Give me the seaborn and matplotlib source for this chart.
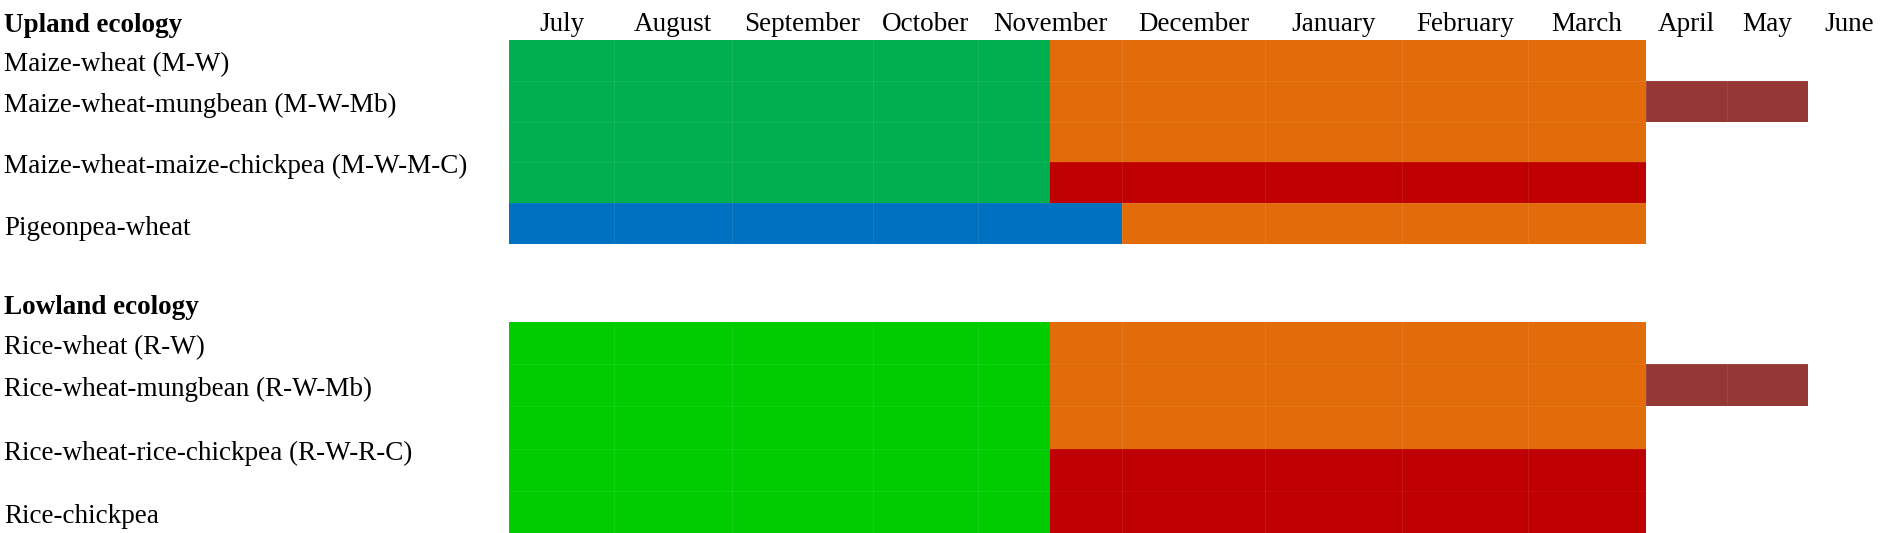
import numpy as np
import pandas as pd
import matplotlib
matplotlib.use("Agg")
import matplotlib.pyplot as plt
import matplotlib.transforms as mtransforms
import seaborn as sns

# ---------------- data ----------------
months = ["July", "August", "September", "October", "November", "December",
          "January", "February", "March", "April", "May", "June"]

# Upland ecology: one lane per table row; crops in sequence, and the month
# (counted from 1 July) at which each crop's period ends.
upland_titles = ["Maize-wheat (M-W)", "Maize-wheat-mungbean (M-W-Mb)",
                 "Maize-wheat-maize-chickpea (M-W-M-C)", "Pigeonpea-wheat"]
upland_crops = [["Maize", "Wheat"],
                ["Maize", "Wheat", "Mungbean"],
                ["Maize", "Wheat"],
                ["Maize", "Chickpea"],
                ["Pigeonpea", "Wheat"]]
upland_end_month = [[4.5, 9],
                    [4.5, 9, 11],
                    [4.5, 9],
                    [4.5, 9],
                    [5, 9]]

# Lowland ecology
lowland_titles = ["Rice-wheat (R-W)", "Rice-wheat-mungbean (R-W-Mb)",
                  "Rice-wheat-rice-chickpea (R-W-R-C)", "Rice-chickpea"]
lowland_crops = [["Rice", "Wheat"],
                 ["Rice", "Wheat", "Mungbean"],
                 ["Rice", "Wheat"],
                 ["Rice", "Chickpea"],
                 ["Rice", "Chickpea"]]
lowland_end_month = [[4.5, 9],
                     [4.5, 9, 11],
                     [4.5, 9],
                     [4.5, 9],
                     [4.5, 9]]

# ---------------- style / layout ----------------
crop_colors = {"Maize": "#00B050", "Rice": "#00CC00", "Wheat": "#E26B0A",
               "Chickpea": "#C00000", "Mungbean": "#953735", "Pigeonpea": "#0070C0"}
title_lanes = [0, 1, 2.5, 4]          # vertical placement of row titles
month_col_px = [105, 118, 141, 105, 144, 143, 137, 126, 118, 81, 81, 82]

sns.set_theme(style="white")
plt.rcParams["font.family"] = ["Liberation Serif", "DejaVu Serif"]
plt.rcParams["text.color"] = "black"
FS = 19.5

W, H = 1892, 533
fig = plt.figure(figsize=(W / 100, H / 100), dpi=100)
fig.patch.set_facecolor("white")

edges_px = np.concatenate([[0], np.cumsum(month_col_px)]).astype(float)
edges_m = np.arange(len(months) + 1, dtype=float)


def fwd(x):
    return np.interp(x, edges_m, edges_px)


def inv(p):
    return np.interp(p, edges_px, edges_m)


total_px = edges_px[-1]
ax_up = fig.add_axes([509 / W, 1 - 244 / H, total_px / W, 204 / H])
ax_lo = fig.add_axes([509 / W, 0, total_px / W, (533 - 322) / H])


def draw_block(ax, crops, ends):
    lanes = [f"lane{i}" for i in range(len(crops))]
    rows = []
    for i, (cs, es) in enumerate(zip(crops, ends)):
        n = len(cs)
        for k, (c, e) in enumerate(zip(cs, es)):
            rows.append({"lane": lanes[i], "crop": c, "end": e, "layer": n - 1 - k})
    df = pd.DataFrame(rows)
    for layer in sorted(df["layer"].unique()):
        sub = df[df["layer"] == layer]
        sns.barplot(data=sub, x="end", y="lane", hue="crop", palette=crop_colors,
                    order=lanes, orient="h", dodge=False, width=1.0, saturation=1,
                    errorbar=None, legend=False, linewidth=0, ax=ax)
    ax.set_xscale("function", functions=(fwd, inv))
    ax.set_xlim(0, len(months))
    ax.set_ylim(len(lanes) - 0.5, -0.5)
    ax.set_yticks([])
    ax.set_xlabel("")
    ax.set_ylabel("")
    for s in ax.spines.values():
        s.set_visible(False)
    # faint cell borders (table look)
    for m in range(1, len(months)):
        ax.axvline(m, color="white", alpha=0.08, lw=0.8, zorder=5)
    for k in range(len(lanes) - 1):
        ax.axhline(k + 0.5, color="white", alpha=0.06, lw=0.8, zorder=5)
    ax.patch.set_alpha(0)


draw_block(ax_up, upland_crops, upland_end_month)
draw_block(ax_lo, lowland_crops, lowland_end_month)

# month header
ax_up.xaxis.tick_top()
ax_up.set_xticks(np.arange(len(months)) + 0.5)
ax_up.set_xticklabels(months)
ax_up.tick_params(axis="x", length=0, pad=2.4, labelsize=FS, colors="black")
ax_up.xaxis.set_minor_locator(matplotlib.ticker.NullLocator())
ax_lo.set_xticks([])
ax_lo.xaxis.set_minor_locator(matplotlib.ticker.NullLocator())

# headings
fig.text(4 / W, 1 - 32 / H, "Upland ecology", fontsize=FS, fontweight="bold",
         va="baseline", ha="left", color="black")
fig.text(4 / W, 1 - 314 / H, "Lowland ecology", fontsize=FS, fontweight="bold",
         va="baseline", ha="left", color="black")

# row titles
off = mtransforms.ScaledTranslation(0, -0.11, fig.dpi_scale_trans)
for ax, titles in [(ax_up, upland_titles), (ax_lo, lowland_titles)]:
    tr = mtransforms.blended_transform_factory(fig.transFigure, ax.transData) + off
    for t, ly in zip(titles, title_lanes):
        fig.text(4 / W, ly, t, fontsize=FS, va="baseline", ha="left",
                 transform=tr, color="black")

fig.savefig("out.png", dpi=100, facecolor="white")
